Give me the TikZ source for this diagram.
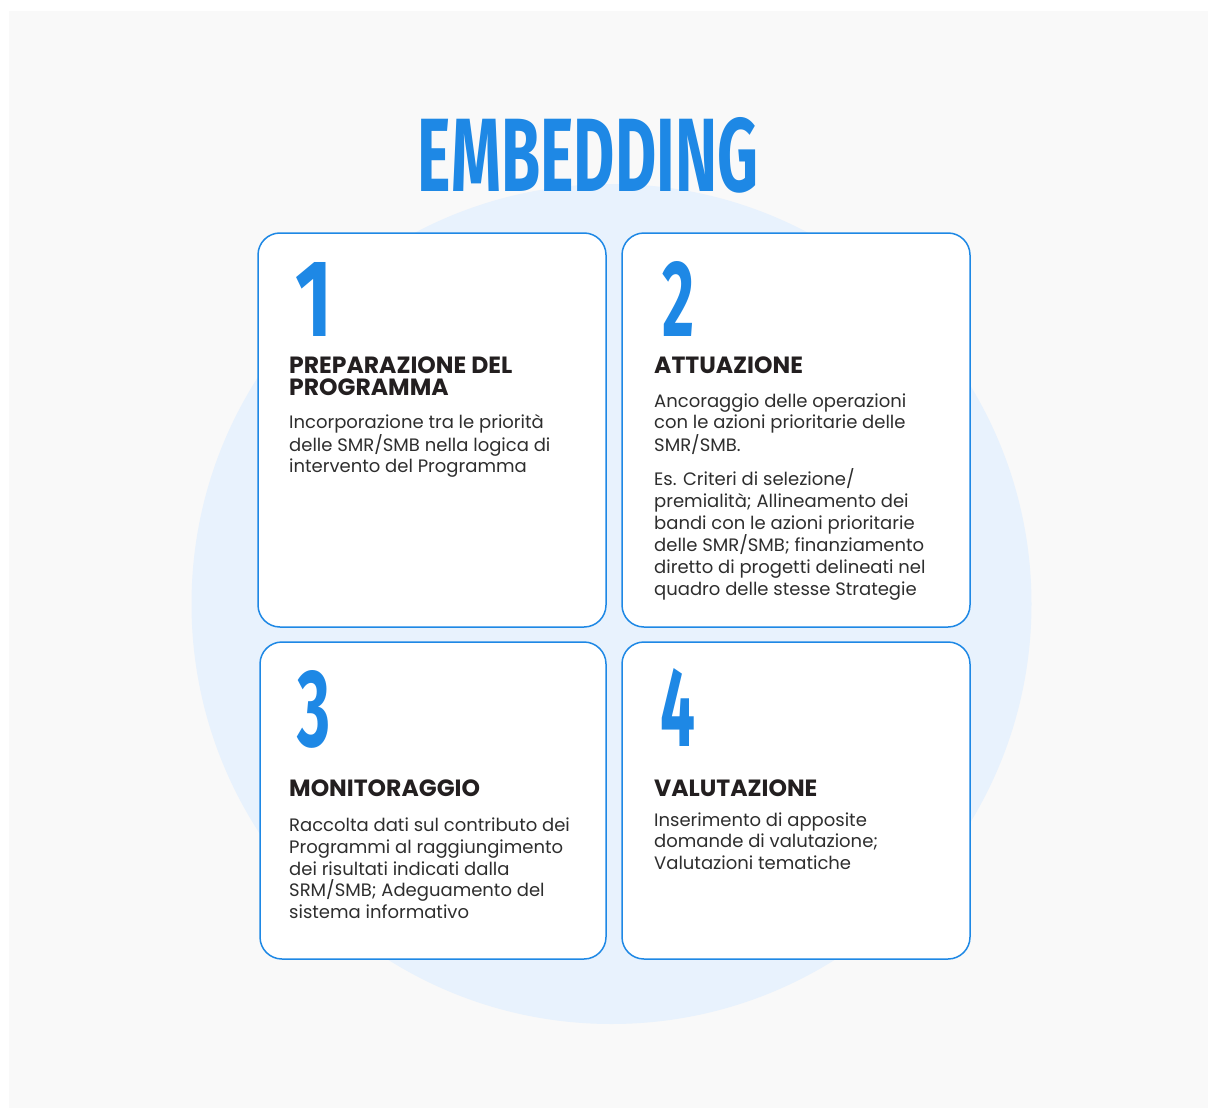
\documentclass[tikz,border=0pt]{standalone}
\usepackage{fontspec}
\usepackage{graphicx}
\setmainfont{Poppins}
\newfontfamily\numfont{Fira Sans}
\definecolor{brand}{HTML}{1E88E5}
\definecolor{ink}{HTML}{231F20}
\definecolor{bodyc}{HTML}{2E2E2E}
\definecolor{panel}{HTML}{F9F9F9}
\definecolor{disc}{HTML}{E8F2FD}
\begin{document}
\begin{tikzpicture}[x=1pt,y=-1pt,
  card/.style={draw=brand, line width=1.5pt, fill=white, rounded corners=22pt},
  num/.style={anchor=north west, inner sep=0pt, outer sep=0pt, text=brand, font=\numfont\bfseries},
  head/.style={anchor=base west, inner sep=0pt, align=left, text=ink, font=\fontsize{23.5}{21.5}\selectfont\bfseries},
  body/.style={anchor=base west, inner sep=0pt, align=left, text=bodyc, font=\fontsize{18}{21.6}\selectfont}]
\useasboundingbox (0,0) rectangle (1208,1108);
\fill[white] (0,0) rectangle (1208,1108);
\fill[panel] (9,11) rectangle (1208,1108);
\fill[disc] (611.5,604) circle[radius=420pt];
% title
\node[inner sep=0pt, text=brand, font=\numfont\bfseries] (title) at (588,155) {\resizebox{340pt}{74pt}{EMBEDDING}};
% cards
\draw[card] (258,233) rectangle (606,627);
\draw[card] (622,233) rectangle (970,627);
\draw[card] (260,642) rectangle (606,959);
\draw[card] (622,642) rectangle (970,959);
% numbers
\node[num] (n1) at (295,262) {\resizebox{37pt}{74pt}{1}};
\node[num] (n2) at (662,261) {\resizebox{32pt}{75pt}{2}};
\node[num] (n3) at (297,670) {\resizebox{33pt}{76pt}{3}};
\node[num] (n4) at (660,668) {\resizebox{35pt}{78pt}{4}};
% headings (anchor = baseline of last line)
\node[head] (h1) at (289,395) {PREPARAZIONE DEL\\PROGRAMMA};
\node[head] (h2) at (654,373.3) {ATTUAZIONE};
\node[head] (h3) at (289,796.7) {MONITORAGGIO};
\node[head] (h4) at (654,796.7) {VALUTAZIONE};
% bodies (anchor = baseline of last line)
\node[body] (b1) at (289,472.7) {Incorporazione tra le priorità\\delle SMR/SMB nella logica di\\intervento del Programma};
\node[body] (b2a) at (654,451.6) {Ancoraggio delle operazioni\\con le azioni prioritarie delle\\SMR/SMB.};
\node[body] (b2b) at (654,595) {Es. Criteri di selezione/\\premialità; Allineamento dei\\bandi con le azioni prioritarie\\delle SMR/SMB; finanziamento\\diretto di progetti delineati nel\\quadro delle stesse Strategie};
\node[body] (b3) at (289,918.3) {Raccolta dati sul contributo dei\\Programmi al raggiungimento\\dei risultati indicati dalla\\SRM/SMB; Adeguamento del\\sistema informativo};
\node[body] (b4) at (654,869.5) {Inserimento di apposite\\domande di valutazione;\\Valutazioni tematiche};
\end{tikzpicture}
\end{document}
